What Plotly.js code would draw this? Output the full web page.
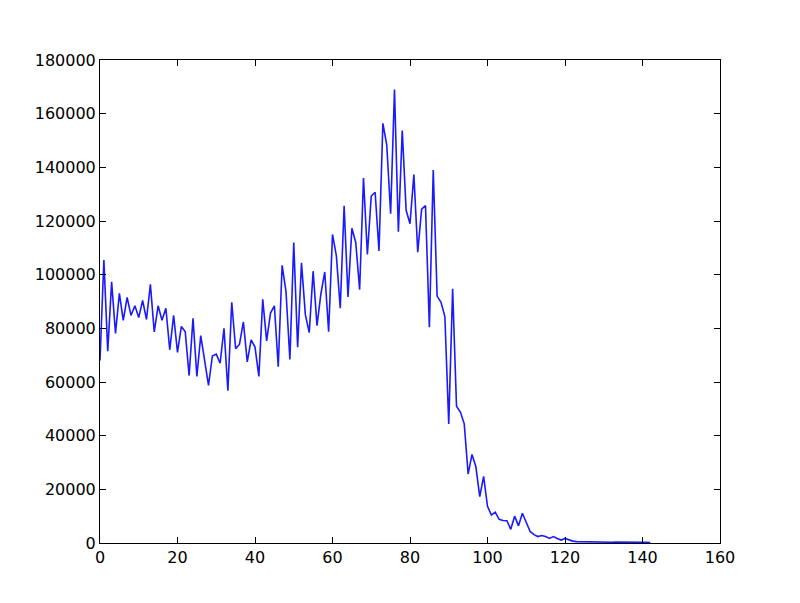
<!DOCTYPE html>
<html>
<head>
<meta charset="utf-8">
<script src="https://cdn.plot.ly/plotly-3.0.1.min.js"></script>
<style>html,body{margin:0;padding:0;background:#fff;}#chart{width:800px;height:603px;}</style>
</head>
<body>
<div id="chart"></div>
<script>
var xTickVals = [0, 20, 40, 60, 80, 100, 120, 140, 160];
var yTickVals = [0, 20000, 40000, 60000, 80000, 100000, 120000, 140000, 160000, 180000];
var values = [
  68000, 105500, 71500, 97300, 78100, 93000, 83000, 91500, 84800, 88400,
  84000, 90400, 83300, 96400, 78700, 88400, 83000, 87500, 72000, 84800,
  71000, 80700, 78700, 62400, 83700, 62100, 77300, 67000, 58700, 69700,
  70400, 67000, 80000, 56800, 89700, 72400, 74100, 82400, 67500, 75700,
  73000, 62100, 90800, 75300, 85700, 88400, 65700, 103500, 93700, 68400,
  112000, 73000, 104400, 85000, 78400, 101300, 81000, 92800, 101000, 78700,
  115000, 107000, 87500, 125700, 91700, 117300, 112000, 94400, 136000, 107500,
  129300, 130700, 108800, 156400, 148400, 122700, 169000, 116000, 153700, 124000,
  119000, 137300, 108400, 124400, 125700, 80400, 139000, 92000, 89700, 84400,
  44400, 94700, 51000, 48800, 44400, 25700, 33000, 28400, 17300, 24800,
  13700, 10400, 11500, 8800, 8400, 8300, 5100, 10000, 6400, 11100,
  7500, 4300, 3100, 2400, 2800, 2400, 1700, 2400, 1700, 1100,
  1700, 1100, 700, 500, 450, 400, 400, 350, 350, 350,
  300, 300, 300, 350, 300, 300, 300, 300, 300, 250,
  250, 250, 200
];
var xs = values.map(function(_, i){ return i; });

var trace = {
  x: xs, y: values, type: 'scatter', mode: 'lines',
  line: {color: '#1a1aff', width: 1.6},
  hoverinfo: 'skip'
};

var axisCommon = {
  showgrid: false, zeroline: false,
  showline: true, linecolor: '#000', linewidth: 1,
  mirror: 'ticks', ticks: 'inside', ticklen: 6, tickwidth: 1, tickcolor: '#000',
  tickfont: {family: 'DejaVu Sans', size: 16, color: '#000'},
  tickformat: 'd'
};

var layout = {
  width: 800, height: 603,
  margin: {l: 100, r: 80, t: 60, b: 60},
  paper_bgcolor: '#fff', plot_bgcolor: '#fff',
  showlegend: false,
  xaxis: Object.assign({}, axisCommon, {range: [0, 160], tickvals: xTickVals, autorange: false}),
  yaxis: Object.assign({}, axisCommon, {range: [0, 180000], tickvals: yTickVals, autorange: false})
};

Plotly.newPlot('chart', [trace], layout, {staticPlot: true});
</script>
</body>
</html>
